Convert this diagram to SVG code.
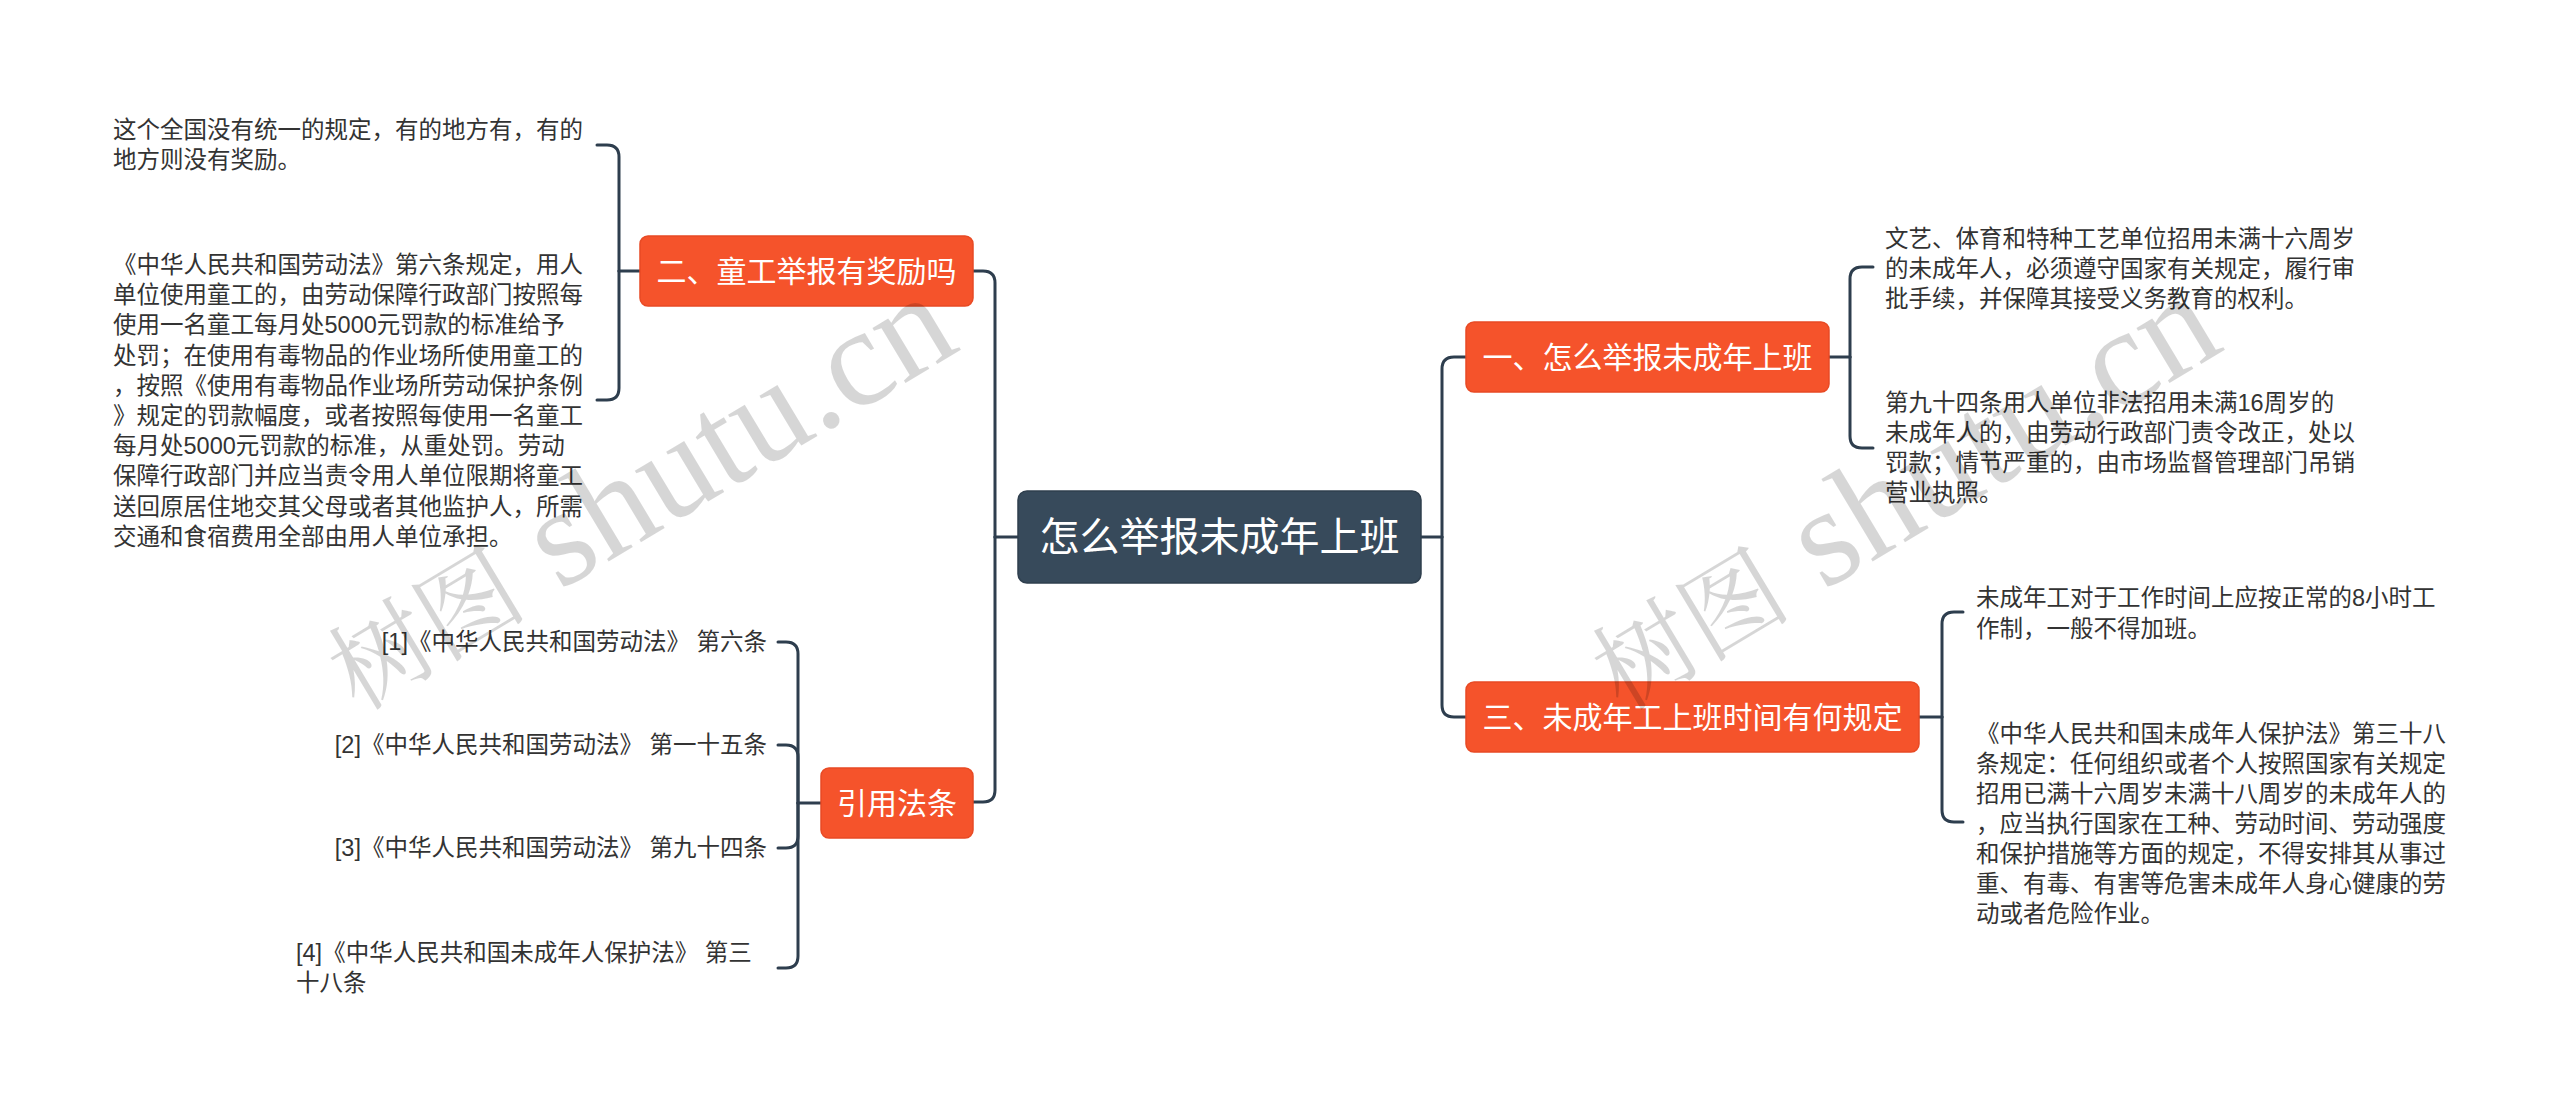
<svg xmlns="http://www.w3.org/2000/svg" width="2560" height="1111" viewBox="0 0 2560 1111">
<style>
.bg{fill:#ffffff}
.conn{fill:none;stroke:#2e3e4e;stroke-width:3;stroke-linecap:round;stroke-linejoin:round}
.root{fill:#374a5b;stroke:#2f3f4e;stroke-width:1.5}
.main{fill:#f5532b;stroke:#e84a24;stroke-width:1.5}
.ntext{font-family:"Liberation Sans","Noto Sans CJK SC",sans-serif;fill:#ffffff;text-anchor:middle;dominant-baseline:central}
.body{font-family:"Liberation Sans","Noto Sans CJK SC",sans-serif;font-size:23.5px;fill:#333333;dominant-baseline:central}
.wm{font-family:"Liberation Serif","Noto Serif CJK SC","Noto Sans CJK SC",serif;fill:#000000;fill-opacity:0.16}
</style>
<rect class="bg" x="0" y="0" width="2560" height="1111"/>

<g id="connectors">
  <path class="conn" d="M1018,537 H995"/>
  <path class="conn" d="M995,537 V283 Q995,271 983,271 H973"/>
  <path class="conn" d="M995,537 V790 Q995,802 983,802 H973"/>
  <path class="conn" d="M1421,537 H1442"/>
  <path class="conn" d="M1442,537 V369 Q1442,357 1454,357 H1466"/>
  <path class="conn" d="M1442,537 V705 Q1442,717 1454,717 H1466"/>
  <path class="conn" d="M640,271 H619"/>
  <path class="conn" d="M619,271 V157 Q619,145 607,145 H597"/>
  <path class="conn" d="M619,271 V388 Q619,400 607,400 H597"/>
  <path class="conn" d="M821,803 H798"/>
  <path class="conn" d="M798,803 V654 Q798,642 786,642 H778"/>
  <path class="conn" d="M798,803 V757 Q798,745 786,745 H778"/>
  <path class="conn" d="M798,803 V836 Q798,848 786,848 H778"/>
  <path class="conn" d="M798,803 V956 Q798,968 786,968 H778"/>
  <path class="conn" d="M1829,357 H1850"/>
  <path class="conn" d="M1850,357 V279 Q1850,267 1862,267 H1873"/>
  <path class="conn" d="M1850,357 V436 Q1850,448 1862,448 H1873"/>
  <path class="conn" d="M1919,717 H1942"/>
  <path class="conn" d="M1942,717 V624 Q1942,612 1954,612 H1963"/>
  <path class="conn" d="M1942,717 V810 Q1942,822 1954,822 H1963"/>
</g>

<g id="root">
  <rect class="root" x="1018" y="491" width="403" height="92" rx="9"/>
  <text class="ntext" x="1219.5" y="537" font-size="40">怎么举报未成年上班</text>
</g>

<g id="node-er">
  <rect class="main" x="640" y="236" width="333" height="70" rx="8"/>
  <text class="ntext" x="806.5" y="271" font-size="30">二、童工举报有奖励吗</text>
</g>

<g id="node-yinyong">
  <rect class="main" x="821" y="768" width="152" height="70" rx="8"/>
  <text class="ntext" x="897" y="803" font-size="30">引用法条</text>
</g>

<g id="node-yi">
  <rect class="main" x="1466" y="322" width="363" height="70" rx="8"/>
  <text class="ntext" x="1647.5" y="357" font-size="30">一、怎么举报未成年上班</text>
</g>

<g id="node-san">
  <rect class="main" x="1466" y="682" width="453" height="70" rx="8"/>
  <text class="ntext" x="1692.5" y="717" font-size="30">三、未成年工上班时间有何规定</text>
</g>

<g id="leaf-er-1">
  <text class="body" x="113" y="130">这个全国没有统一的规定，有的地方有，有的</text>
  <text class="body" x="113" y="160">地方则没有奖励。</text>
</g>

<g id="leaf-er-2">
  <text class="body" x="113" y="265">《中华人民共和国劳动法》第六条规定，用人</text>
  <text class="body" x="113" y="295.2">单位使用童工的，由劳动保障行政部门按照每</text>
  <text class="body" x="113" y="325.4">使用一名童工每月处5000元罚款的标准给予</text>
  <text class="body" x="113" y="355.6">处罚；在使用有毒物品的作业场所使用童工的</text>
  <text class="body" x="113" y="385.8">，按照《使用有毒物品作业场所劳动保护条例</text>
  <text class="body" x="113" y="416">》规定的罚款幅度，或者按照每使用一名童工</text>
  <text class="body" x="113" y="446.2">每月处5000元罚款的标准，从重处罚。劳动</text>
  <text class="body" x="113" y="476.4">保障行政部门并应当责令用人单位限期将童工</text>
  <text class="body" x="113" y="506.6">送回原居住地交其父母或者其他监护人，所需</text>
  <text class="body" x="113" y="536.8">交通和食宿费用全部由用人单位承担。</text>
</g>

<g id="ref-1">
  <text class="body" x="767" y="642" text-anchor="end">[1]《中华人民共和国劳动法》 第六条</text>
</g>
<g id="ref-2">
  <text class="body" x="767" y="745" text-anchor="end">[2]《中华人民共和国劳动法》 第一十五条</text>
</g>
<g id="ref-3">
  <text class="body" x="767" y="848" text-anchor="end">[3]《中华人民共和国劳动法》 第九十四条</text>
</g>
<g id="ref-4">
  <text class="body" x="296" y="953">[4]《中华人民共和国未成年人保护法》 第三</text>
  <text class="body" x="296" y="983">十八条</text>
</g>

<g id="leaf-yi-1">
  <text class="body" x="1885" y="238.5">文艺、体育和特种工艺单位招用未满十六周岁</text>
  <text class="body" x="1885" y="268.7">的未成年人，必须遵守国家有关规定，履行审</text>
  <text class="body" x="1885" y="298.9">批手续，并保障其接受义务教育的权利。</text>
</g>

<g id="leaf-yi-2">
  <text class="body" x="1885" y="403">第九十四条用人单位非法招用未满16周岁的</text>
  <text class="body" x="1885" y="433">未成年人的，由劳动行政部门责令改正，处以</text>
  <text class="body" x="1885" y="463">罚款；情节严重的，由市场监督管理部门吊销</text>
  <text class="body" x="1885" y="493">营业执照。</text>
</g>

<g id="leaf-san-1">
  <text class="body" x="1976" y="598">未成年工对于工作时间上应按正常的8小时工</text>
  <text class="body" x="1976" y="628.5">作制，一般不得加班。</text>
</g>

<g id="leaf-san-2">
  <text class="body" x="1976" y="734">《中华人民共和国未成年人保护法》第三十八</text>
  <text class="body" x="1976" y="764">条规定：任何组织或者个人按照国家有关规定</text>
  <text class="body" x="1976" y="794">招用已满十六周岁未满十八周岁的未成年人的</text>
  <text class="body" x="1976" y="824">，应当执行国家在工种、劳动时间、劳动强度</text>
  <text class="body" x="1976" y="854">和保护措施等方面的规定，不得安排其从事过</text>
  <text class="body" x="1976" y="884">重、有毒、有害等危害未成年人身心健康的劳</text>
  <text class="body" x="1976" y="914">动或者危险作业。</text>
</g>

<g id="watermark">
  <text class="wm" transform="translate(358,712) rotate(-31)"><tspan font-size="100">树图</tspan><tspan font-size="140"> shutu.cn</tspan></text>
  <text class="wm" transform="translate(1622,712) rotate(-31)"><tspan font-size="100">树图</tspan><tspan font-size="140"> shutu.cn</tspan></text>
</g>
</svg>
